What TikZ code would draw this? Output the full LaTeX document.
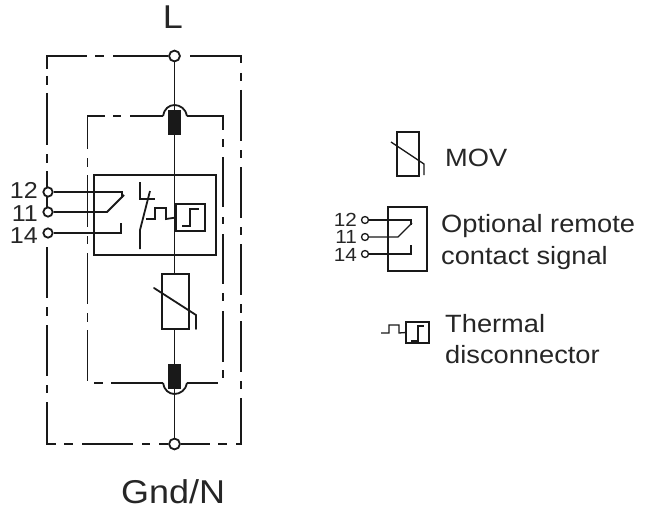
\documentclass[tikz,border=0pt]{standalone}
\usepackage{fontspec}
\setmainfont[FakeStretch=1.09]{Liberation Sans}

\begin{document}
\begin{tikzpicture}
      [x=1pt,y=-1pt
      ,lin/.style={color=black!90,line width=1.8pt}
      ,linthin/.style={color=black!90,line width=1.3pt}
      ,term/.style={circle,draw=black!90,fill=white,line width=1.8pt,inner sep=0pt,minimum size=9.3pt}
      ,termbig/.style={term,minimum size=10.8pt}
      ,termsm/.style={term,line width=1.3pt,minimum size=7pt}
      ,boxnd/.style={draw=black!90,line width=1.8pt,inner sep=0pt,outer sep=0pt}
      ,boxsm/.style={boxnd,line width=1.3pt}
      ,fuse/.style={fill=black!90,inner sep=0pt,outer sep=0pt,minimum width=13pt,minimum height=25pt}
      ,big/.style={anchor=base,font=\fontsize{33}{33}\selectfont,color=black!85,inner sep=0pt}
      ,num/.style={anchor=base east,font=\fontsize{23}{23}\selectfont,color=black!85,inner sep=0pt}
      ,numsm/.style={anchor=base east,font=\fontsize{19}{19}\selectfont,color=black!85,inner sep=0pt}
      ,txt/.style={anchor=base west,font=\fontsize{25}{25}\selectfont,color=black!85,inner sep=0pt}
      ]
        \useasboundingbox (0,0) rectangle (651,511);

        \draw[lin] (47,69) -- (47,56) -- (87,56);
        \draw[lin] (190,56) -- (241,56) -- (241,63);
        \draw[lin] (47,402) -- (47,444) -- (56,444);
        \draw[lin] (236,444) -- (241,444) -- (241,398);
        \foreach \a/\b in {76/85,93/145,154/163,171/187,197/207,247/298,307/316,325/376,385/393}{
            \draw[lin] (47,\a) -- (47,\b);
        }
        \foreach \a/\b in {73/81,90/141,150/158,167/218,227/235,244/295,304/313,321/372,381/389}{
            \draw[lin] (241,\a) -- (241,\b);
        }
        \foreach \a/\b in {95/104,113/168}{
            \draw[lin] (\a,56) -- (\b,56);
        }
        \foreach \a/\b in {64/73,82/133,142/150,159/168,181/210,218/227}{
            \draw[lin] (\a,444) -- (\b,444);
        }

        \draw[lin] (87.5,149) -- (87.5,116) -- (105,116);
        \draw[lin] (187,116) -- (223,116) -- (223,130);
        \foreach \a/\b in {158/167,175/227,236/244,253/304,313/322,330/381}{
            \draw[lin] (87.5,\a) -- (87.5,\b);
        }
        \foreach \a/\b in {139/147,157/207,217/224,234/284,293/301,311/362,370/378}{
            \draw[lin] (223,\a) -- (223,\b);
        }
        \foreach \a/\b in {113/121,130/163}{
            \draw[lin] (\a,116) -- (\b,116);
        }
        \foreach \a/\b in {94/103,111/163,187/218}{
            \draw[lin] (\a,383) -- (\b,383);
        }
        \draw[lin] (163,116) .. controls (164,109) and (169,105) .. (174.5,105)
            .. controls (180,105) and (186,109) .. (187,116);
        \draw[lin] (163,383) .. controls (164,390) and (169,394) .. (174.5,394)
            .. controls (180,394) and (186,390) .. (187,383);

        \node[termbig] (nodeL) at (174.5,56) {};
        \node[termbig] (nodeN) at (174.5,444) {};
        \node[fuse] (fuseT) at (174.5,122.5) {};
        \node[fuse] (fuseB) at (174.5,376.5) {};
        \node[boxnd,minimum width=122pt,minimum height=80pt] (relay) at (155,215) {};
        \node[boxnd,minimum width=29pt,minimum height=27pt] (therm) at (190.5,217.5) {};
        \node[boxnd,minimum width=27pt,minimum height=55pt] (mov) at (175.5,301.5) {};
        \node[term] (t12) at (48,192) {};
        \node[term] (t11) at (48,212) {};
        \node[term] (t14) at (48,233) {};

        \draw[lin] (nodeL) -- (fuseT);
        \draw[lin] (fuseT) -- (fuseT |- mov.north);
        \draw[lin] (fuseB |- mov.south) -- (fuseB);
        \draw[lin] (fuseB) -- (nodeN);

        \draw[lin] (t12) -- (122,192) -- (122,198);
        \draw[lin] (t11) -- (107,212) -- (124,195);
        \draw[lin] (t14) -- (121,233) -- (121,223);
        \draw[lin] (140,182) -- (140,199) -- (155,199);
        \draw[lin] (140,249) -- (140,230) -- (150,191);
        \draw[lin] (146,219) -- (155,219) -- (155,208) -- (166,208) -- (166,219) -- (therm.west);
        \draw[lin] (182,226) -- (190,226) -- (190,209) -- (199,209);
        \draw[lin,line cap=round] (154,288) -- (196,315) -- (196,329);

        \node[big] (lblL) at (173,29) {L};
        \node[big] (lblN) at (173,503) {Gnd/N};
        \node[num] (lbl12) at (38,198) {12};
        \node[num] (lbl11) at (38,221) {11};
        \node[num] (lbl14) at (38,243) {14};

        \node[boxsm,minimum width=22pt,minimum height=44pt] (movL) at (408,154) {};
        \draw[linthin] (391,142) -- (424,164) -- (424,175);
        \node[txt] (lblMov) at (445,166) {MOV};

        \node[boxsm,minimum width=39pt,minimum height=64pt] (relayL) at (407.5,239) {};
        \node[termsm] (s12) at (365,220) {};
        \node[termsm] (s11) at (365,237) {};
        \node[termsm] (s14) at (365,254) {};
        \draw[linthin] (s12) -- (411,220) -- (411,225);
        \draw[linthin] (s11) -- (398,237) -- (412,223);
        \draw[linthin] (s14) -- (411,254) -- (411,245);
        \node[numsm] (lbls12) at (357,226) {12};
        \node[numsm] (lbls11) at (357,243) {11};
        \node[numsm] (lbls14) at (357,261) {14};
        \node[txt] (lblOpt) at (441,232) {Optional remote};
        \node[txt] (lblCon) at (441,264) {contact signal};

        \node[boxsm,minimum width=23pt,minimum height=21pt] (thermL) at (417.5,332.5) {};
        \draw[linthin] (381,333) -- (389,333) -- (389,325) -- (399,325) -- (399,333) -- (thermL.west);
        \draw[linthin] (411,341) -- (418,341) -- (418,326) -- (424,326);
        \node[txt] (lblThe) at (445,332) {Thermal};
        \node[txt] (lblDis) at (445,363) {disconnector};
      \end{tikzpicture}
\end{document}
